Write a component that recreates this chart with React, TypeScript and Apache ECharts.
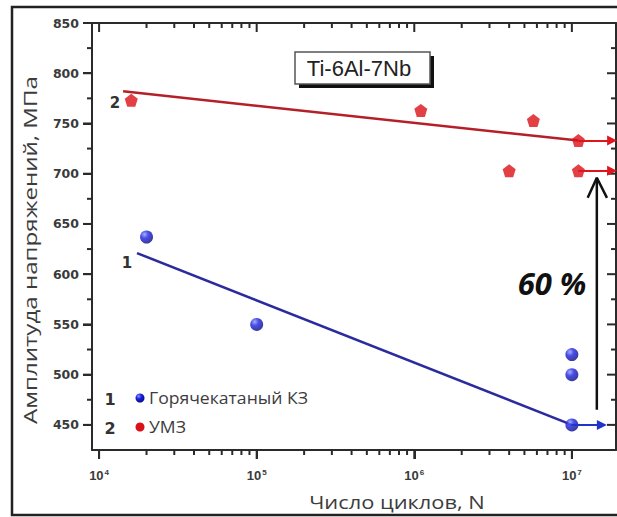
import React, { useEffect, useRef } from "react";
import * as echarts from "echarts";

// ---- data ----
const hotRolledN = [2.0e4, 1.0e5, 1.0e7, 1.0e7, 1.0e7];
const hotRolledS = [637, 550, 520, 500, 450];
const umzN = [1.6e4, 1.1e6, 5.7e6, 4.0e6, 1.1e7, 1.1e7];
const umzS = [773, 763, 753, 703, 733, 703];
const hotFitN = [1.74e4, 1.0e7];
const hotFitS = [621, 450];
const umzFitN = [1.42e4, 1.1e7];
const umzFitS = [782, 733];
// run-out arrows: start N, end N, stress
const hotRunoutStart = [1.0e7];
const hotRunoutEnd = [1.55e7];
const hotRunoutS = [450];
const umzRunoutStart = [1.1e7, 1.1e7];
const umzRunoutEnd = [1.8e7, 1.8e7];
const umzRunoutS = [733, 703];
// 60 % arrow
const gainArrowN = [1.44e7, 1.44e7];
const gainArrowS = [465, 696];
const gainHeadN = [1.26e7, 1.44e7, 1.67e7];
const gainHeadS = [676, 696, 676];
// axes
const xDecades = [4, 5, 6, 7];
const xMinorMultipliers = [2, 3, 4, 5, 6, 7, 8, 9];
const yMajorTicks = [450, 500, 550, 600, 650, 700, 750, 800, 850];
const yMinorTicks = [475, 525, 575, 625, 675, 725, 775, 825];

const X_MIN = 3.955;
const X_MAX = 7.28;
const Y_MIN = 425;
const Y_MAX = 850;

// target plot rectangle (pixels)
const PLOT_L = 92;
const PLOT_R = 616;
const PLOT_T = 23;
const PLOT_B = 450;

const lg = (v: number) => Math.log10(v);

export default function App() {
  const ref = useRef<HTMLDivElement>(null);
  useEffect(() => {
    if (!ref.current) return;
    const chart = echarts.init(ref.current, null, { renderer: "svg" });

    const xMinor: number[] = [];
    for (let d = 4; d <= 7; d++) {
      for (const m of xMinorMultipliers) {
        const v = lg(m * Math.pow(10, d));
        if (v <= X_MAX) xMinor.push(v);
      }
    }

    const axisColor = "#2a2a2a";
    const mkSphere = () =>
      new echarts.graphic.RadialGradient(0.35, 0.3, 0.75, [
        { offset: 0, color: "#8c9cff" },
        { offset: 0.4, color: "#1c22e0" },
        { offset: 1, color: "#08087e" },
      ]);
    const pentagon = "path://M50,0 L97.6,34.5 L79.4,90.5 L20.6,90.5 L2.4,34.5 Z";

    const arrowLine = (
      starts: number[],
      ends: number[],
      s: number[],
      color: string
    ) => ({
      silent: true,
      symbol: ["none", "triangle"],
      symbolSize: 10,
      label: { show: false },
      lineStyle: { color, width: 2, type: "solid" },
      data: starts.map((st, i) => [
        { coord: [lg(st), s[i]] },
        { coord: [lg(ends[i]), s[i]] },
      ]),
    });

    const textEl = (x: number, y: number, text: string, font: string, fill: string, align = "center", extra: any = {}) => ({
      type: "text",
      x,
      y,
      ...extra,
      style: { text, font, fill, align, verticalAlign: "middle" },
    });

    const baseGraphic: any[] = [
      {
        type: "rect",
        shape: { x: 12, y: 7, width: 620, height: 508 },
        style: { fill: "none", stroke: "#222", lineWidth: 2.5 },
        silent: true,
      },
      textEl(30, 250, "Амплитуда напряжений, МПа", "19px 'Open Sans'", "#3c3c3c", "center", { rotation: Math.PI / 2, scaleX: 1.27 }),
      textEl(397, 502, "Число циклов, N", "19px 'Open Sans'", "#3c3c3c", "center", { scaleX: 1.15 }),
      { type: "rect", shape: { x: 299, y: 56, width: 135, height: 32 }, style: { fill: "#111" } },
      { type: "rect", shape: { x: 295, y: 52, width: 135, height: 32 }, style: { fill: "#fff", stroke: "#555", lineWidth: 1.5 } },
      textEl(359, 68, "Ti-6Al-7Nb", "22px 'Liberation Sans'", "#222"),
      textEl(115, 103, "2", "bold 15px 'DejaVu Sans'", "#333"),
      textEl(127, 263, "1", "bold 15px 'DejaVu Sans'", "#333"),
      textEl(552, 283, "60 %", "italic bold 31px 'Open Sans'", "#111"),
      textEl(110, 399, "1", "bold 16px 'DejaVu Sans'", "#333"),
      { type: "circle", shape: { cx: 140, cy: 398, r: 4.5 }, style: { fill: mkSphere() } },
      textEl(149, 398, "Горячекатаный КЗ", "16px 'Open Sans'", "#3c3c3c", "left", { scaleX: 1.1 }),
      textEl(110, 428, "2", "bold 16px 'DejaVu Sans'", "#333"),
      { type: "circle", shape: { cx: 140, cy: 427, r: 4.5 }, style: { fill: "#dc1018" } },
      textEl(149, 427, "УМЗ", "16px 'Open Sans'", "#3c3c3c", "left", { scaleX: 1.1 }),
    ];

    const grid: any = {
      left: PLOT_L,
      top: PLOT_T,
      right: 617 - PLOT_R,
      bottom: 517 - PLOT_B,
      containLabel: false,
      outerBoundsMode: "none",
    };

    const option: any = {
      animation: false,
      backgroundColor: "#ffffff",
      grid,
      xAxis: [
        {
          type: "value",
          min: X_MIN,
          max: X_MAX,
          position: "bottom",
          splitLine: { show: false },
          axisLine: { show: true, onZero: false, lineStyle: { color: axisColor, width: 2 } },
          axisTick: {
            show: true,
            length: 9,
            customValues: xDecades,
            lineStyle: { color: axisColor, width: 2 },
          },
          axisLabel: {
            show: true,
            margin: 18,
            customValues: xDecades,
            formatter: (v: number) => `{b|10}{s|${Math.round(v)}}`,
            rich: {
              b: { fontFamily: "Liberation Sans", fontWeight: "bold", fontSize: 13, color: "#3a3a3a" },
              s: {
                fontFamily: "Liberation Sans",
                fontWeight: "bold",
                fontSize: 8,
                color: "#3a3a3a",
                verticalAlign: "top",
                padding: [0, 0, 6, 1],
              },
            },
          },
        },
        {
          type: "value",
          min: X_MIN,
          max: X_MAX,
          position: "top",
          splitLine: { show: false },
          axisLine: { show: true, onZero: false, lineStyle: { color: axisColor, width: 2 } },
          axisTick: { show: false },
          axisLabel: { show: false },
        },
      ],
      yAxis: [
        {
          type: "value",
          min: Y_MIN,
          max: Y_MAX,
          position: "left",
          splitLine: { show: false },
          axisLine: { show: true, onZero: false, lineStyle: { color: axisColor, width: 2 } },
          axisTick: {
            show: true,
            length: 9,
            customValues: yMajorTicks,
            lineStyle: { color: axisColor, width: 2 },
          },
          axisLabel: {
            show: true,
            margin: 13,
            customValues: yMajorTicks,
            fontFamily: "DejaVu Sans",
            fontWeight: "bold",
            fontSize: 12.5,
            color: "#3a3a3a",
          },
        },
        {
          type: "value",
          min: Y_MIN,
          max: Y_MAX,
          position: "right",
          splitLine: { show: false },
          axisLine: { show: true, onZero: false, lineStyle: { color: axisColor, width: 2 } },
          axisTick: { show: false },
          axisLabel: { show: false },
        },
      ],
      series: [
        {
          name: "fit-hot",
          type: "line",
          xAxisIndex: 0,
          yAxisIndex: 0,
          showSymbol: false,
          symbol: "none",
          lineStyle: { color: "#2b2b9e", width: 2.5 },
          data: hotFitN.map((n, i) => [lg(n), hotFitS[i]]),
          markLine: arrowLine(hotRunoutStart, hotRunoutEnd, hotRunoutS, "#2233cc"),
          z: 2,
        },
        {
          name: "fit-umz",
          type: "line",
          xAxisIndex: 0,
          yAxisIndex: 0,
          showSymbol: false,
          symbol: "none",
          lineStyle: { color: "#b52028", width: 2.5 },
          data: umzFitN.map((n, i) => [lg(n), umzFitS[i]]),
          markLine: arrowLine(umzRunoutStart, umzRunoutEnd, umzRunoutS, "#e0141c"),
          z: 2,
        },
        {
          name: "Горячекатаный КЗ",
          type: "scatter",
          xAxisIndex: 0,
          yAxisIndex: 0,
          symbol: "circle",
          symbolSize: 13,
          itemStyle: { color: mkSphere() },
          data: hotRolledN.map((n, i) => [lg(n), hotRolledS[i]]),
          z: 4,
        },
        {
          name: "УМЗ",
          type: "scatter",
          xAxisIndex: 0,
          yAxisIndex: 0,
          symbol: pentagon,
          symbolSize: 13,
          itemStyle: { color: "#dc1018" },
          data: umzN.map((n, i) => [lg(n), umzS[i]]),
          z: 4,
        },
        {
          name: "gain-shaft",
          type: "line",
          xAxisIndex: 0,
          yAxisIndex: 0,
          symbol: "none",
          lineStyle: { color: "#111", width: 2.5 },
          data: gainArrowN.map((n, i) => [lg(n), gainArrowS[i]]),
          z: 3,
        },
        {
          name: "gain-head",
          type: "line",
          xAxisIndex: 0,
          yAxisIndex: 0,
          symbol: "none",
          lineStyle: { color: "#111", width: 2.5 },
          data: gainHeadN.map((n, i) => [lg(n), gainHeadS[i]]),
          z: 3,
        },
      ],
    };
    chart.setOption(option);

    const toPx = (x: number, y: number): number[] | null => {
      try {
        const p = chart.convertToPixel({ xAxisIndex: 0, yAxisIndex: 0 } as any, [x, y]) as any;
        if (p && isFinite(p[0]) && isFinite(p[1])) return p;
      } catch (e) {}
      try {
        const p = chart.convertToPixel({ seriesIndex: 0 } as any, [x, y]) as any;
        if (p && isFinite(p[0]) && isFinite(p[1])) return p;
      } catch (e) {}
      return null;
    };

    // keep the plot rectangle where the reference has it
    for (let k = 0; k < 3; k++) {
      const lb = toPx(X_MIN, Y_MIN);
      const rt = toPx(X_MAX, Y_MAX);
      if (!lb || !rt) break;
      const dl = lb[0] - PLOT_L;
      const dr = PLOT_R - rt[0];
      const dt = rt[1] - PLOT_T;
      const db = PLOT_B - lb[1];
      if (Math.abs(dl) + Math.abs(dr) + Math.abs(dt) + Math.abs(db) < 0.5) break;
      grid.left -= dl;
      grid.right -= dr;
      grid.top -= dt;
      grid.bottom -= db;
      chart.setOption({ grid: { left: grid.left, right: grid.right, top: grid.top, bottom: grid.bottom } });
    }

    // tick marks (minor ones and the mirrored top/right ones), placed through the chart's own axis scales
    const tickEls: any[] = [];
    const tickStyle = () => ({ stroke: axisColor, lineWidth: 2 });
    const addX = (v: number, len: number) => {
      const b = toPx(v, Y_MIN);
      const t = toPx(v, Y_MAX);
      if (!b || !t) return;
      tickEls.push({ type: "line", shape: { x1: b[0], y1: b[1], x2: b[0], y2: b[1] + len }, style: tickStyle() });
      tickEls.push({ type: "line", shape: { x1: t[0], y1: t[1], x2: t[0], y2: t[1] + len }, style: tickStyle() });
    };
    const addY = (v: number, len: number) => {
      const l = toPx(X_MIN, v);
      const r = toPx(X_MAX, v);
      if (!l || !r) return;
      tickEls.push({ type: "line", shape: { x1: l[0], y1: l[1], x2: l[0] - len, y2: l[1] }, style: tickStyle() });
      tickEls.push({ type: "line", shape: { x1: r[0], y1: r[1], x2: r[0] - len, y2: r[1] }, style: tickStyle() });
    };
    xDecades.forEach((v) => addX(v, 9));
    xMinor.forEach((v) => addX(v, 5));
    yMajorTicks.forEach((v) => addY(v, 9));
    yMinorTicks.forEach((v) => addY(v, 5));

    chart.setOption({ graphic: [...baseGraphic, ...tickEls] });

    return () => chart.dispose();
  }, []);

  return (
    <div
      ref={ref}
      style={{ position: "fixed", left: 0, top: 0, width: 617, height: 517, background: "#fff" }}
    />
  );
}
